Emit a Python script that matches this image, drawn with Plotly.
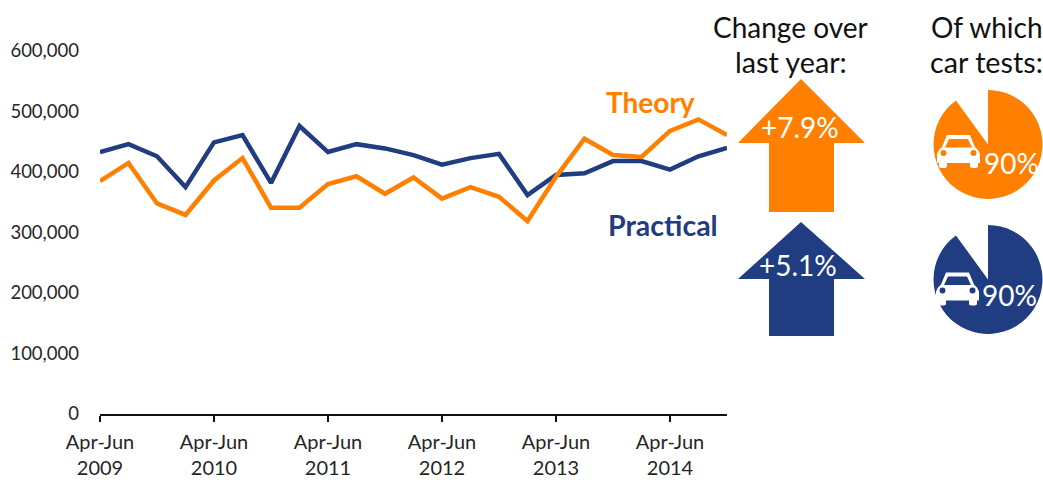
import plotly.graph_objects as go

W, H = 1043, 480
ORANGE = "#FF8000"
NAVY = "#1F3D80"
TEXT = "#262626"
FONT = "Lato"

years = [2009, 2010, 2011, 2012, 2013, 2014]
quarters = ["Apr-Jun", "Jul-Sep", "Oct-Dec", "Jan-Mar"]
categories = [f"{quarters[i % 4]} {2009 + i // 4}" for i in range(23)]
theory = [385000, 415000, 348000, 329000, 386000, 423000, 341000, 341000, 380000, 393000, 364000, 391000,
          356000, 375000, 359000, 319000, 392000, 455000, 428000, 425000, 468000, 487000, 461000]
practical = [433000, 446000, 426000, 375000, 449000, 461000, 382000, 476000, 433000, 446000, 439000, 428000,
             412000, 423000, 430000, 362000, 395000, 398000, 418000, 418000, 404000, 426000, 440000]
y_ticks = [0, 100000, 200000, 300000, 400000, 500000, 600000]
car_share = [90, 10]


def px(x):
    return x / W


def py(y):
    return 1 - y / H


def path(points):
    return "M " + " L ".join(f"{px(x):.5f},{py(y):.5f}" for x, y in points) + " Z"


def arrow(top, base, bottom, color):
    pts = [(801, top), (865, base), (834, base), (834, bottom), (769, bottom), (769, base), (738, base)]
    return dict(type="path", xref="paper", yref="paper", path=path(pts), fillcolor=color, line_width=0, layer="above")


def car(x0, y0, s, color):
    def t(p):
        return [(x0 + a * s, y0 + b * s) for a, b in p]
    body = t([(10, 0), (33, 0), (38, 12), (41, 15), (43, 19), (43, 28), (41, 28), (41, 32), (39, 33), (35, 33),
              (33, 32), (33, 28), (10, 28), (10, 32), (8, 33), (4, 33), (2, 32), (2, 28), (0, 28), (0, 19), (2, 15), (5, 12)])
    window = t([(12, 4), (31, 4), (35, 12.5), (8, 12.5)])
    shapes = [
        dict(type="path", xref="paper", yref="paper", path=path(body), fillcolor="white", line_width=0, layer="above"),
        dict(type="path", xref="paper", yref="paper", path=path(window), fillcolor=color, line_width=0, layer="above"),
    ]
    for cx in (6.5, 36.5):
        shapes.append(dict(type="circle", xref="paper", yref="paper",
                           x0=px(x0 + (cx - 3) * s), x1=px(x0 + (cx + 3) * s),
                           y0=py(y0 + 21 * s), y1=py(y0 + 15 * s),
                           fillcolor=color, line_width=0, layer="above"))
    return shapes


def label(x, y, text, size, color, bold=False):
    return dict(xref="paper", yref="paper", x=px(x), y=py(y), text=f"<b>{text}</b>" if bold else text,
                showarrow=False, xanchor="center", yanchor="middle",
                font=dict(family=FONT, size=size, color=color))


def pie(cy, color):
    return go.Pie(values=car_share, sort=False, direction="clockwise", rotation=0, hole=0,
                  marker=dict(colors=[color, "rgba(0,0,0,0)"], line=dict(width=0)),
                  textinfo="none", hoverinfo="skip", showlegend=False,
                  domain=dict(x=[px(933), px(1043)], y=[py(cy + 54.5), py(cy - 54.5)]))


fig = go.Figure()
fig.add_trace(go.Scatter(x=categories, y=practical, mode="lines", line=dict(color=NAVY, width=4.5), showlegend=False))
fig.add_trace(go.Scatter(x=categories, y=theory, mode="lines", line=dict(color=ORANGE, width=4.5), showlegend=False))
fig.add_trace(pie(144.5, ORANGE))
fig.add_trace(pie(279.5, NAVY))

shapes = [arrow(79, 143, 212, ORANGE), arrow(222, 279, 336, NAVY)]
shapes += car(937, 135, 1.0, ORANGE) + car(936, 272.5, 1.0, NAVY)

annotations = [
    label(790, 27, "Change over", 28, "#111111"),
    label(791, 62, "last year:", 28.7, "#111111"),
    label(987, 27, "Of which", 28, "#111111"),
    label(986.5, 62, "car tests:", 28.7, "#111111"),
    label(650, 102, "Theory", 28, ORANGE, True),
    label(662.5, 225, "Practical", 28.5, NAVY, True),
    label(800, 127, "+7.9%", 28, "white"),
    label(798, 265, "+5.1%", 28, "white"),
    label(1011, 163, "90%", 28, "white"),
    label(1009.5, 295, "90%", 28, "white"),
]

fig.update_layout(
    width=W, height=H, autosize=False,
    margin=dict(l=0, r=0, t=0, b=0, autoexpand=False),
    paper_bgcolor="white", plot_bgcolor="white",
    font=dict(family=FONT, size=18, color=TEXT),
    shapes=shapes, annotations=annotations,
    xaxis=dict(domain=[px(100), px(727)], type="category", categoryorder="array", categoryarray=categories,
               range=[0, 22], showgrid=False, zeroline=False, showline=True, linecolor="#111111", linewidth=1.5,
               ticks="outside", ticklen=6, tickwidth=1.5, tickcolor="#111111",
               tickmode="array", tickvals=categories[::4],
               ticktext=[f"Apr-Jun<br>{y}" for y in years], tickangle=0, ticklabelstandoff=3,
               tickfont=dict(family=FONT, size=20, color=TEXT)),
    yaxis=dict(domain=[py(414), py(51)], range=[0, 600000], showgrid=False, zeroline=False, showline=False,
               tickmode="array", tickvals=y_ticks, ticktext=[f"{v:,}" for v in y_ticks],
               ticks="", ticklabelstandoff=20,
               tickfont=dict(family=FONT, size=18.5, color=TEXT)),
)

fig.write_html("out.html", config=dict(displayModeBar=False),
               post_script="document.body.style.margin='0';")
